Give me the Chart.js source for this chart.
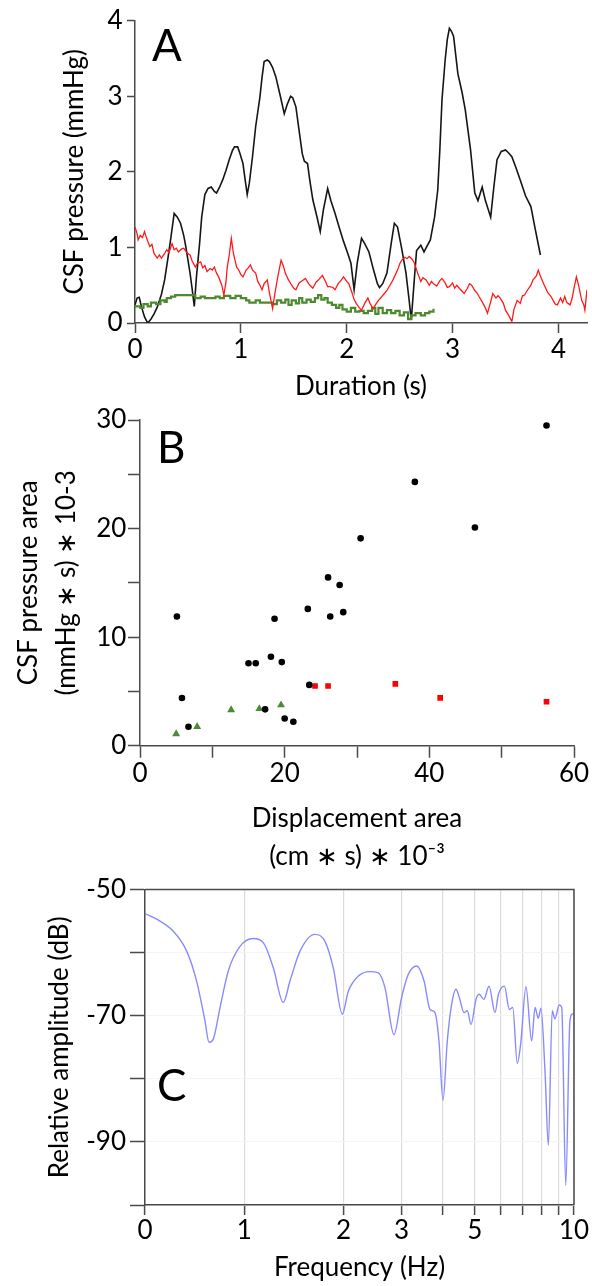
<!DOCTYPE html>
<html>
<head>
<meta charset="utf-8">
<script src="https://cdn.jsdelivr.net/npm/chart.js@4.4.1/dist/chart.umd.min.js"></script>
<style>
  html, body { margin:0; padding:0; background:#fff; }
  #wrap { position:relative; width:592px; height:1286px; overflow:hidden; background:#fff; }
  canvas { position:absolute; left:0; }
  .letter { position:absolute; font-family:Lato, sans-serif; font-size:44px; line-height:44px; color:#000; }
</style>
</head>
<body>
<div id="wrap">
  <canvas id="cA" width="592" height="410" style="top:0px"></canvas>
  <canvas id="cB" width="592" height="490" style="top:400px"></canvas>
  <canvas id="cC" width="592" height="416" style="top:870px"></canvas>
  <div class="letter" style="left:152px; top:22px;">A</div>
  <div class="letter" style="left:157px; top:424px;">B</div>
  <div class="letter" style="left:157px; top:1062px;">C</div>
</div>
<script>
// ---------- Panel A data: CSF pressure (mmHg) vs duration (s) ----------
const aBlackT = [0.00,0.02,0.04,0.06,0.09,0.12,0.15,0.18,0.21,0.25,0.28,0.31,0.34,0.37,0.40,0.43,0.46,0.48,0.52,0.54,0.56,0.58,0.61,0.63,0.66,0.69,0.72,0.75,0.77,0.80,0.83,0.86,0.89,0.92,0.94,0.97,0.99,1.02,1.04,1.06,1.08,1.11,1.14,1.18,1.20,1.22,1.25,1.27,1.30,1.33,1.37,1.41,1.44,1.47,1.49,1.52,1.55,1.58,1.60,1.63,1.65,1.68,1.72,1.75,1.78,1.82,1.85,1.89,1.93,1.97,2.01,2.04,2.07,2.10,2.14,2.17,2.21,2.25,2.29,2.31,2.34,2.38,2.42,2.45,2.48,2.52,2.56,2.59,2.61,2.64,2.66,2.70,2.73,2.76,2.79,2.83,2.86,2.88,2.90,2.93,2.95,2.97,2.99,3.01,3.05,3.09,3.12,3.17,3.21,3.24,3.28,3.31,3.36,3.39,3.42,3.46,3.50,3.53,3.56,3.60,3.64,3.69,3.74,3.78,3.83];
const aBlackP = [0.24,0.33,0.34,0.22,0.08,0.00,0.05,0.12,0.21,0.38,0.57,0.85,1.14,1.45,1.40,1.32,1.16,1.01,0.66,0.45,0.22,0.60,1.05,1.40,1.70,1.78,1.80,1.74,1.72,1.80,1.90,2.02,2.16,2.28,2.33,2.33,2.25,2.11,1.90,1.70,1.85,2.20,2.60,2.99,3.25,3.46,3.48,3.46,3.38,3.26,3.02,2.77,2.90,3.00,2.98,2.86,2.55,2.24,2.14,2.11,1.90,1.63,1.40,1.21,1.50,1.78,1.62,1.45,1.26,1.08,0.92,0.79,0.44,0.80,1.12,1.05,0.94,0.72,0.52,0.47,0.52,0.66,1.05,1.32,1.27,0.98,0.66,0.30,0.04,0.60,0.96,1.03,0.94,1.02,1.10,1.40,1.76,2.30,2.95,3.48,3.75,3.90,3.86,3.79,3.30,3.05,2.82,2.29,1.72,1.62,1.80,1.62,1.40,1.80,2.16,2.27,2.29,2.25,2.20,2.05,1.89,1.68,1.54,1.25,0.90];

const aRedT = [0.00,0.02,0.03,0.05,0.07,0.09,0.11,0.14,0.16,0.18,0.21,0.23,0.25,0.28,0.30,0.32,0.35,0.37,0.39,0.41,0.44,0.46,0.49,0.52,0.54,0.57,0.59,0.62,0.64,0.66,0.68,0.71,0.73,0.75,0.77,0.79,0.82,0.84,0.86,0.87,0.89,0.91,0.93,0.96,0.98,1.00,1.02,1.05,1.07,1.09,1.11,1.14,1.16,1.18,1.20,1.22,1.25,1.27,1.30,1.32,1.35,1.38,1.40,1.42,1.45,1.48,1.50,1.52,1.55,1.58,1.61,1.64,1.66,1.68,1.71,1.74,1.77,1.80,1.82,1.84,1.87,1.89,1.92,1.95,1.97,2.00,2.02,2.05,2.07,2.09,2.12,2.14,2.17,2.20,2.22,2.25,2.28,2.30,2.32,2.35,2.38,2.40,2.43,2.45,2.48,2.50,2.52,2.55,2.57,2.59,2.62,2.64,2.67,2.70,2.72,2.75,2.78,2.80,2.82,2.85,2.88,2.90,2.93,2.95,2.97,3.00,3.02,3.04,3.07,3.09,3.11,3.14,3.16,3.18,3.21,3.23,3.25,3.28,3.31,3.33,3.36,3.38,3.41,3.43,3.45,3.48,3.50,3.53,3.56,3.58,3.61,3.64,3.66,3.68,3.71,3.74,3.76,3.79,3.81,3.83,3.86,3.88,3.90,3.93,3.95,3.97,3.99,4.02,4.04,4.06,4.08,4.11,4.13,4.15,4.17,4.19,4.22,4.24,4.25,4.27];
const aRedP = [1.27,1.18,1.10,1.16,1.13,1.21,1.12,1.01,1.04,0.92,0.86,0.90,0.86,0.92,0.97,0.93,1.05,0.97,0.99,0.94,0.98,0.99,0.93,0.90,0.82,0.74,0.79,0.81,0.73,0.76,0.68,0.72,0.70,0.74,0.66,0.61,0.50,0.37,0.55,0.72,0.90,1.12,0.92,0.74,0.70,0.64,0.61,0.70,0.73,0.77,0.70,0.66,0.55,0.50,0.44,0.52,0.57,0.40,0.19,0.38,0.62,0.83,0.76,0.66,0.57,0.50,0.46,0.44,0.53,0.56,0.59,0.52,0.49,0.46,0.54,0.58,0.63,0.55,0.48,0.48,0.47,0.44,0.52,0.57,0.61,0.55,0.52,0.40,0.31,0.26,0.20,0.17,0.26,0.33,0.26,0.19,0.26,0.30,0.33,0.38,0.43,0.48,0.55,0.61,0.70,0.78,0.83,0.87,0.85,0.88,0.84,0.79,0.66,0.55,0.60,0.57,0.50,0.55,0.52,0.49,0.56,0.59,0.53,0.47,0.48,0.53,0.46,0.50,0.45,0.42,0.39,0.46,0.52,0.50,0.43,0.40,0.35,0.28,0.20,0.13,0.28,0.39,0.33,0.36,0.33,0.26,0.17,0.10,0.02,0.18,0.30,0.26,0.36,0.37,0.44,0.50,0.57,0.62,0.70,0.62,0.52,0.46,0.40,0.35,0.30,0.25,0.24,0.33,0.27,0.35,0.27,0.24,0.33,0.48,0.61,0.50,0.30,0.24,0.17,0.44];

const aGreenT = [0.00,0.05,0.08,0.12,0.15,0.20,0.24,0.28,0.30,0.34,0.38,0.55,0.57,0.62,0.66,0.72,0.76,0.80,0.84,0.90,0.95,1.00,1.05,1.08,1.14,1.18,1.25,1.30,1.34,1.38,1.42,1.45,1.48,1.52,1.55,1.58,1.62,1.66,1.70,1.73,1.76,1.79,1.82,1.86,1.90,1.93,1.96,2.00,2.04,2.08,2.12,2.16,2.20,2.24,2.27,2.30,2.34,2.38,2.42,2.46,2.50,2.54,2.58,2.61,2.65,2.70,2.74,2.78,2.82];
const aGreenP = [0.22,0.20,0.25,0.22,0.27,0.25,0.30,0.28,0.33,0.35,0.37,0.37,0.33,0.35,0.33,0.33,0.35,0.33,0.36,0.33,0.36,0.33,0.30,0.27,0.30,0.27,0.27,0.25,0.30,0.27,0.31,0.24,0.30,0.26,0.33,0.27,0.31,0.28,0.33,0.37,0.31,0.33,0.27,0.24,0.20,0.24,0.18,0.15,0.20,0.15,0.16,0.13,0.16,0.20,0.12,0.20,0.13,0.17,0.13,0.16,0.10,0.14,0.05,0.10,0.13,0.10,0.13,0.15,0.19];

const aXTicks = [0,1,2,3,4];
const aYTicks = [0,1,2,3,4];

// ---------- Panel B data: CSF pressure area vs displacement area ----------
const bBlackX = [56.2,38.0,46.3,30.5,26.0,27.6,23.2,26.3,28.1,5.1,18.6,15.0,16.0,18.1,19.6,23.4,5.8,17.3,6.7,20.0,21.2];
const bBlackY = [29.5,24.3,20.1,19.1,15.5,14.8,12.6,11.9,12.3,11.9,11.7,7.6,7.6,8.2,7.7,5.6,4.4,3.35,1.75,2.5,2.2];
const bRedX = [24.2,26.0,35.3,41.5,56.2];
const bRedY = [5.5,5.5,5.7,4.4,4.05];
const bGreenX = [5.0,7.9,12.6,16.5,19.5];
const bGreenY = [1.08,1.75,3.3,3.4,3.75];

// ---------- Panel C data: relative amplitude (dB) vs frequency (Hz) ----------
const cFreq = [0,0.151,0.285,0.42,0.52,0.604,0.645,0.688,0.756,0.839,0.957,1.065,1.142,1.225,1.313,1.376,1.476,1.639,1.757,1.862,1.983,2.068,2.218,2.406,2.55,2.67,2.845,3.0,3.145,3.334,3.51,3.658,3.787,3.895,4.006,4.128,4.255,4.386,4.49,4.64,4.75,4.87,5.045,5.16,5.33,5.525,5.76,5.9,6.15,6.37,6.52,6.73,6.89,7.15,7.44,7.62,7.79,7.94,8.17,8.36,8.59,8.75,9.02,9.18,9.44,9.72,9.91,10];
const cAmp = [-53.8,-55.0,-56.6,-59.75,-64.5,-70.8,-74.2,-73.7,-68.7,-62.9,-59.0,-57.75,-58.4,-62.4,-67.9,-64.5,-59.75,-57.1,-58.2,-62.4,-69.75,-66.1,-63.7,-63.0,-63.2,-65.5,-73.0,-67.1,-63.4,-62.1,-64.5,-69.0,-69.5,-74.0,-83.4,-74.0,-68.2,-65.8,-67.1,-69.5,-69.2,-71.4,-67.4,-66.6,-67.4,-65.3,-69.5,-66.6,-65.3,-69.0,-68.7,-77.55,-74.5,-65.4,-74.0,-68.7,-70.4,-68.8,-79.0,-90.55,-69.2,-70.5,-68.3,-68.7,-96.9,-70.8,-69.7,-69.8];
const cTickFreqs = [0,1,2,3,4,5,6,7,8,9,10];
const cLabeledFreqs = [0,1,2,3,5,10];
const cYLabeled = [-50,-70,-90];

// ---------- common styling ----------
Chart.defaults.font.family = 'Lato, "Open Sans", sans-serif';
Chart.defaults.font.size = 26;
Chart.defaults.color = '#000';
const AX = '#4a4a4a';

function pts(xs, ys) { return xs.map((x, i) => ({ x: x, y: ys[i] })); }
const base = {
  responsive: false, animation: false, devicePixelRatio: 1,
  plugins: { legend: { display: false }, tooltip: { enabled: false } },
  events: []
};

// ---------- Panel A ----------
new Chart(document.getElementById('cA'), {
  type: 'line',
  data: { datasets: [
    { data: pts(aRedT, aRedP), borderColor: '#ff1a1a', borderWidth: 1.3, pointRadius: 0, tension: 0 },
    { data: pts(aGreenT, aGreenP), borderColor: '#4d8a2f', borderWidth: 2.2, pointRadius: 0, stepped: true },
    { data: pts(aBlackT, aBlackP), borderColor: '#151515', borderWidth: 1.6, pointRadius: 0, tension: 0 }
  ]},
  options: Object.assign({}, base, {
    layout: { padding: { top: 20.7, right: 5, bottom: 0, left: 0 } },
    scales: {
      x: {
        type: 'linear', min: 0, max: 4.27,
        afterBuildTicks: s => { s.ticks = aXTicks.map(v => ({ value: v })); },
        afterFit: s => { s.height = 87; },
        ticks: { padding: 1, maxRotation: 0, autoSkip: false },
        grid: { drawOnChartArea: false, tickLength: 10, tickColor: AX, tickWidth: 1.5 },
        border: { color: AX, width: 1.5 },
        title: { display: true, text: 'Duration (s)', padding: { top: 0, bottom: 7.4 } }
      },
      y: {
        type: 'linear', min: 0, max: 4,
        afterBuildTicks: s => { s.ticks = aYTicks.map(v => ({ value: v })); },
        afterFit: s => { s.width = 135; },
        ticks: { padding: 4.4 },
        grid: { drawOnChartArea: false, tickLength: 8, tickColor: AX, tickWidth: 1.5 },
        border: { color: AX, width: 1.5 },
        title: { display: true, text: 'CSF pressure (mmHg)', padding: { top: 59.4, bottom: 0 } }
      }
    }
  })
});

// ---------- Panel B ----------
new Chart(document.getElementById('cB'), {
  type: 'scatter',
  data: { datasets: [
    { data: pts(bBlackX, bBlackY), pointStyle: 'circle', pointRadius: 3.3, backgroundColor: '#000', borderColor: '#000', borderWidth: 0 },
    { data: pts(bRedX, bRedY), pointStyle: 'rect', pointRadius: 4, backgroundColor: '#ff0000', borderColor: '#ff0000', borderWidth: 0 },
    { data: pts(bGreenX, bGreenY), pointStyle: 'triangle', pointRadius: 4.6, backgroundColor: '#4f8a3a', borderColor: '#4f8a3a', borderWidth: 0 }
  ]},
  options: Object.assign({}, base, {
    layout: { padding: { top: 20, right: 18, bottom: 0, left: 0 } },
    scales: {
      x: {
        type: 'linear', min: 0, max: 60,
        ticks: { stepSize: 10, padding: 0.7, maxRotation: 0, autoSkip: false,
                 callback: v => (v % 20 === 0 ? String(v) : '') },
        afterFit: s => { s.height = 144.3; },
        grid: { drawOnChartArea: false, tickLength: 12, tickColor: AX, tickWidth: 1.5 },
        border: { color: AX, width: 1.5 },
        title: { display: true, text: ['Displacement area', '(cm \u2217 s) \u2217 10\u207B\u00B3'],
                 font: { size: 26, lineHeight: 1.46 }, padding: { top: 0, bottom: 14 } }
      },
      y: {
        type: 'linear', min: 0, max: 30,
        ticks: { stepSize: 5, padding: 1.6, autoSkip: false,
                 callback: v => (v % 10 === 0 ? String(v) : '') },
        afterFit: s => { s.width = 140; },
        grid: { drawOnChartArea: false, tickLength: 12, tickColor: AX, tickWidth: 1.5 },
        border: { color: AX, width: 1.5 },
        title: { display: true, text: ['CSF pressure area', '(mmHg \u2217 s) \u2217 10-3'],
                 font: { size: 26, lineHeight: 1.46 }, padding: { top: 10, bottom: 0 } }
      }
    }
  })
});

// ---------- Panel C ----------
const tf = f => (f <= 1 ? f : 1 + Math.log2(f));
const frame = {
  id: 'frame',
  afterDraw(chart) {
    const { ctx, chartArea: a } = chart;
    ctx.save();
    ctx.strokeStyle = AX; ctx.lineWidth = 1.5;
    ctx.beginPath();
    ctx.moveTo(a.left, a.top); ctx.lineTo(a.right, a.top); ctx.lineTo(a.right, a.bottom);
    ctx.stroke();
    ctx.restore();
  }
};
new Chart(document.getElementById('cC'), {
  type: 'line',
  data: { datasets: [
    { data: cFreq.map((f, i) => ({ x: tf(f), y: cAmp[i] })), borderColor: '#8a8aff', borderWidth: 1.4,
      pointRadius: 0, cubicInterpolationMode: 'monotone' }
  ]},
  plugins: [frame],
  options: Object.assign({}, base, {
    layout: { padding: { top: 18.3, right: 18, bottom: 0, left: 0 } },
    scales: {
      x: {
        type: 'linear', min: 0, max: tf(10),
        afterBuildTicks: s => { s.ticks = cTickFreqs.map(f => ({ value: tf(f) })); },
        afterFit: s => { s.height = 81; },
        ticks: { padding: 0.4, maxRotation: 0, autoSkip: false,
                 callback: (v, i) => (cLabeledFreqs.includes(cTickFreqs[i]) ? String(cTickFreqs[i]) : '') },
        grid: { drawOnChartArea: true, color: '#dcdcdc', lineWidth: 1.2, tickLength: 10, tickColor: AX, tickWidth: 1.5 },
        border: { color: AX, width: 1.5 },
        title: { display: true, text: 'Frequency (Hz)', padding: { top: 0, bottom: 2.4 } }
      },
      y: {
        type: 'linear', min: -100, max: -50,
        ticks: { stepSize: 10, padding: 4, autoSkip: false,
                 callback: v => (cYLabeled.includes(v) ? String(v) : '') },
        afterFit: s => { s.width = 145; },
        grid: { drawOnChartArea: true, color: '#f4f4f4', tickLength: 15, tickColor: AX, tickWidth: 1.5 },
        border: { color: AX, width: 1.5 },
        title: { display: true, text: 'Relative amplitude (dB)', padding: { top: 44.4, bottom: 0 } }
      }
    }
  })
});
</script>
</body>
</html>
